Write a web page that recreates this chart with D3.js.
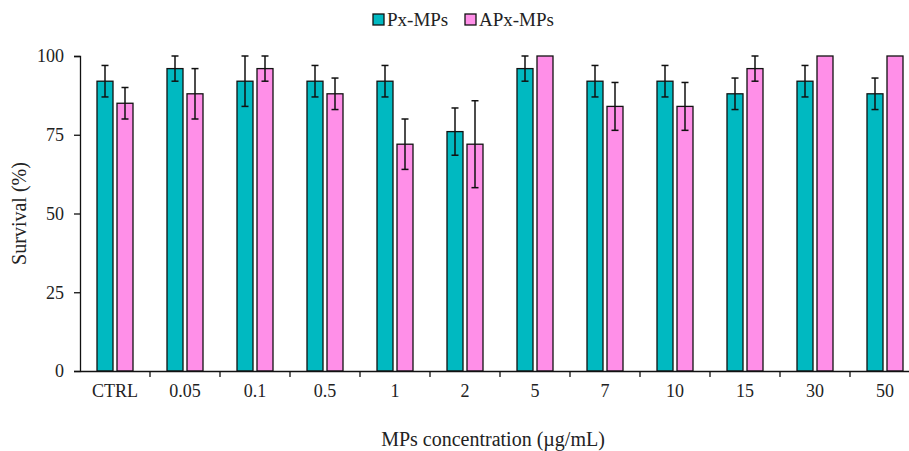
<!DOCTYPE html>
<html>
<head>
<meta charset="utf-8">
<script src="https://cdn.jsdelivr.net/npm/d3@7"></script>
<style>
  body { margin: 0; background: #fff; }
  svg { display: block; }
  svg text { font-family: "Liberation Serif", "Times New Roman", serif; }
</style>
</head>
<body>
<svg id="chart" width="909" height="451"></svg>
<script>
const categories = ["CTRL", "0.05", "0.1", "0.5", "1", "2", "5", "7", "10", "15", "30", "50"];
const series = ["Px-MPs", "APx-MPs"];
const pxValues = [92, 96, 92, 92, 92, 76, 96, 92, 92, 88, 92, 88];
const pxErrors = [5, 4, 8, 5, 5, 7.5, 4, 5, 5, 5, 5, 5];
const apxValues = [85, 88, 96, 88, 72, 72, 100, 84, 84, 96, 100, 100];
const apxErrors = [5, 8, 4, 5, 8, 13.8, 0, 7.6, 7.6, 4, 0, 0];
const yTicks = [0, 25, 50, 75, 100];

const colors = {"Px-MPs": "#00b9c1", "APx-MPs": "#ff8fe8"};

const data = categories.map((c, i) => ({
    cat: c,
    vals: [
        {s: "Px-MPs", v: pxValues[i], e: pxErrors[i]},
        {s: "APx-MPs", v: apxValues[i], e: apxErrors[i]}
    ]
}));

const svg = d3.select("#chart");
const margin = {left: 80, top: 56, bottom: 371};

const x = d3.scaleBand().domain(categories).range([margin.left, margin.left + 70 * categories.length]);
const x1 = d3.scaleBand().domain(series).range([17, 53]).paddingInner(0.2);
const y = d3.scaleLinear().domain([0, 100]).range([margin.bottom, margin.top]);

// bars
const groups = svg.selectAll(".grp")
    .data(data)
    .enter().append("g")
    .attr("transform", d => `translate(${x(d.cat)},0)`);

groups.selectAll("rect")
    .data(d => d.vals)
    .enter().append("rect")
    .attr("x", d => x1(d.s))
    .attr("y", d => y(d.v))
    .attr("width", x1.bandwidth())
    .attr("height", d => y(0) - y(d.v))
    .attr("fill", d => colors[d.s])
    .attr("stroke", "#111")
    .attr("stroke-width", 1.3);

// error bars
const errs = groups.selectAll(".err")
    .data(d => d.vals.filter(v => v.e > 0))
    .enter().append("g")
    .attr("stroke", "#111")
    .attr("stroke-width", 1.5);

errs.append("line")
    .attr("x1", d => x1(d.s) + x1.bandwidth() / 2)
    .attr("x2", d => x1(d.s) + x1.bandwidth() / 2)
    .attr("y1", d => y(Math.min(100, d.v + d.e)))
    .attr("y2", d => y(d.v - d.e));
errs.selectAll(".cap")
    .data(d => [Math.min(100, d.v + d.e), d.v - d.e].map(t => ({s: d.s, t: t})))
    .enter().append("line")
    .attr("x1", d => x1(d.s) + x1.bandwidth() / 2 - 3.5)
    .attr("x2", d => x1(d.s) + x1.bandwidth() / 2 + 3.5)
    .attr("y1", d => y(d.t))
    .attr("y2", d => y(d.t));

// y axis
const yAxis = svg.append("g")
    .attr("transform", `translate(${margin.left},0)`)
    .call(d3.axisLeft(y).tickValues(yTicks).tickSize(6).tickPadding(10))
    .attr("font-family", null)
    .attr("font-size", null);
yAxis.select(".domain").attr("stroke", "#111").attr("stroke-width", 1.3);
yAxis.selectAll(".tick line").attr("stroke", "#111").attr("stroke-width", 1.3);
yAxis.selectAll("text").style("font-size", "18px").attr("fill", "#222");

// x axis
const xAxis = svg.append("g")
    .attr("transform", `translate(0,${margin.bottom})`)
    .call(d3.axisBottom(x).tickSize(0).tickPadding(13))
    .attr("font-family", null)
    .attr("font-size", null);
xAxis.select(".domain").attr("stroke", "#111").attr("stroke-width", 1.3);
xAxis.selectAll("text").style("font-size", "18px").attr("fill", "#222");
xAxis.selectAll(".sep")
    .data(categories.slice(1))
    .enter().append("line")
    .attr("x1", d => x(d))
    .attr("x2", d => x(d))
    .attr("y1", 0)
    .attr("y2", 6)
    .attr("stroke", "#111")
    .attr("stroke-width", 1.3);

// axis titles
svg.append("text")
    .attr("transform", `translate(26,${(margin.top + margin.bottom) / 2}) rotate(-90)`)
    .attr("text-anchor", "middle")
    .attr("fill", "#222")
    .style("font-size", "20px")
    .text("Survival (%)");

svg.append("text")
    .attr("x", 493)
    .attr("y", 446)
    .attr("text-anchor", "middle")
    .attr("fill", "#222")
    .style("font-size", "20px")
    .text("MPs concentration (µg/mL)");

// legend
const legend = svg.append("g");
const legX = [373, 465];
series.forEach((s, i) => {
    legend.append("rect")
        .attr("x", legX[i])
        .attr("y", 14)
        .attr("width", 11)
        .attr("height", 11)
        .attr("fill", colors[s])
        .attr("stroke", "#111")
        .attr("stroke-width", 1.3);
    legend.append("text")
        .attr("x", legX[i] + 14)
        .attr("y", 26)
        .attr("fill", "#222")
        .style("font-size", "19px")
        .text(s);
});
</script>
</body>
</html>
